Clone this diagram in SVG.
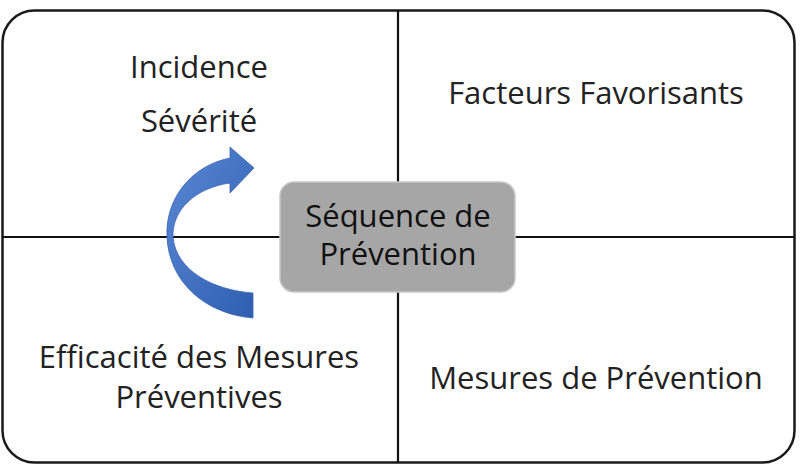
<svg xmlns="http://www.w3.org/2000/svg" width="802" height="465" viewBox="0 0 802 465">
<defs>
<style>
.lbl{font-family:"Open Sans",Lato,"Liberation Sans",sans-serif;font-size:31px;fill:#222;text-anchor:middle}
.frame{fill:#fff;stroke:#1a1a1a;stroke-width:2.5}
.div{stroke:#111;stroke-width:2.2;fill:none}
</style>
<linearGradient id="blue" x1="0" y1="0" x2="1" y2="1">
<stop offset="0" stop-color="#5a88d4"/>
<stop offset="1" stop-color="#2e5eb0"/>
</linearGradient>
</defs>
<rect width="802" height="465" fill="#fff"/>
<g id="frame">
<rect class="frame" x="2.5" y="10.5" width="792" height="452" rx="32" ry="32"/>
</g>
<g id="connectors">
<line class="div" x1="398" y1="10" x2="398" y2="463"/>
<line class="div" x1="2" y1="237" x2="795" y2="237"/>
</g>
<g id="cycle-arrow">
<path d="M230,158 C190,166 165,200 167,237 C169,282 205,314 253,318 L253,293 C212,290 176,270 173,237 C172,210 195,188 230,183 L230,193 L254,168 L230,147 Z" fill="url(#blue)" stroke="#3a66b4" stroke-width="0.8"/>
</g>
<g id="center">
<rect x="280" y="182" width="235" height="110" rx="14" ry="14" fill="#a6a6a6" stroke="#c8c8c8" stroke-width="1.5"/>
<text class="lbl" x="398" y="227" style="fill:#111">Séquence de</text>
<text class="lbl" x="398" y="265" style="fill:#111">Prévention</text>
</g>
<g id="q1">
<text class="lbl" x="199" y="78">Incidence</text>
<text class="lbl" x="199" y="132">Sévérité</text>
</g>
<g id="q2">
<text class="lbl" x="596" y="104">Facteurs Favorisants</text>
</g>
<g id="q3">
<text class="lbl" x="199" y="368">Efficacité des Mesures</text>
<text class="lbl" x="199" y="408">Préventives</text>
</g>
<g id="q4">
<text class="lbl" x="596" y="389">Mesures de Prévention</text>
</g>
</svg>
